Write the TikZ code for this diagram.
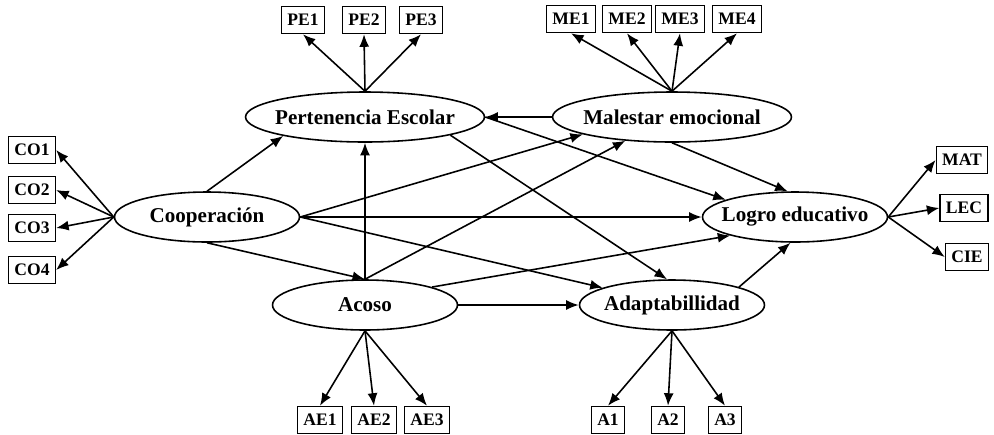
\documentclass[tikz,border=0pt]{standalone}
\usepackage{fontspec}
\setmainfont{Liberation Serif}
\usepackage{tikz}
\usetikzlibrary{arrows.meta,positioning,shapes.geometric}

\begin{document}
\begin{tikzpicture}[
  x=0.02cm, y=-0.02cm,
  latent/.style={draw, ellipse, line width=0.9pt, inner xsep=-2cm, inner ysep=0pt, minimum width=3.7cm, minimum height=1cm, font=\fontsize{12}{14}\selectfont\bfseries},
  wide/.style={latent, minimum width=4.78cm},
  indic/.style={draw, rectangle, line width=0.9pt, inner xsep=3.3pt, inner ysep=0pt, minimum height=0.54cm, font=\fontsize{10}{12}\selectfont\bfseries},
  arrow/.style={-{Latex[length=2.5mm, width=2mm]}, line width=0.9pt}
]
\useasboundingbox (0,0) rectangle (994,434);

% latent variables
\node[wide] (pe) at (365,117) {Pertenencia Escolar};
\node[wide] (me) at (672,117) {Malestar emocional};
\node[latent] (coop) at (207,217) {Cooperación};
\node[latent] (logro) at (795,217) {Logro educativo};
\node[latent] (acoso) at (365,305) {Acoso};
\node[latent] (adap) at (672,305) {Adaptabillidad};

% indicators
\node[indic] (pe1) at (303,20) {PE1};
\node[indic] (pe2) at (364,20) {PE2};
\node[indic] (pe3) at (421,20) {PE3};
\node[indic] (me1) at (571,19) {ME1};
\node[indic] (me2) at (627,19) {ME2};
\node[indic] (me3) at (680,19) {ME3};
\node[indic] (me4) at (737,19) {ME4};
\node[indic] (co1) at (32,150) {CO1};
\node[indic] (co2) at (32,190) {CO2};
\node[indic] (co3) at (32,228) {CO3};
\node[indic] (co4) at (32,270) {CO4};
\node[indic] (mat) at (962,160) {MAT};
\node[indic] (lec) at (964,208) {LEC};
\node[indic] (cie) at (967,257) {CIE};
\node[indic] (ae1) at (320,420) {AE1};
\node[indic] (ae2) at (374,420) {AE2};
\node[indic] (ae3) at (427,420) {AE3};
\node[indic] (a1) at (608,420) {A1};
\node[indic] (a2) at (668,420) {A2};
\node[indic] (a3) at (725,420) {A3};

% measurement arrows
\draw[arrow] (pe.north) -- (pe1.south);
\draw[arrow] (pe.north) -- (pe2.south);
\draw[arrow] (pe.north) -- (pe3.south);
\draw[arrow] (me.north) -- (me1.south);
\draw[arrow] (me.north) -- (me2.south);
\draw[arrow] (me.north) -- (me3.south);
\draw[arrow] (me.north) -- (me4.south);
\draw[arrow] (coop.west) -- (co1.east);
\draw[arrow] (coop.west) -- (co2.east);
\draw[arrow] (coop.west) -- (co3.east);
\draw[arrow] (coop.west) -- (co4.east);
\draw[arrow] (logro.east) -- (mat.west);
\draw[arrow] (logro.east) -- (lec.west);
\draw[arrow] (logro.east) -- (cie.west);
\draw[arrow] (acoso.south) -- (ae1.north);
\draw[arrow] (acoso.south) -- (ae2.north);
\draw[arrow] (acoso.south) -- (ae3.north);
\draw[arrow] (adap.south) -- (a1.north);
\draw[arrow] (adap.south) -- (a2.north);
\draw[arrow] (adap.south) -- (a3.north);

% structural paths
\draw[arrow] (coop.north) -- (pe.193);
\draw[arrow] (coop.east) -- (me.191);
\draw[arrow] (coop.east) -- (logro.west);
\draw[arrow] (coop.east) -- (adap.166);
\draw[arrow] (coop.south) -- (acoso.north);
\draw[arrow] (acoso.north) -- (pe.south);
\draw[arrow] (acoso.north) -- (me.207);
\draw[arrow] (acoso.15) -- (logro.196);
\draw[arrow] (acoso.east) -- (adap.west);
\draw[arrow] (me.west) -- (pe.east);
\draw[arrow] (me.south) -- (logro.106);
\draw[arrow] (pe.east) -- (logro.166);
\draw[arrow] (pe.-12) -- (adap.101);
\draw[arrow] (adap.15) -- (logro.-100);
\end{tikzpicture}
\end{document}
